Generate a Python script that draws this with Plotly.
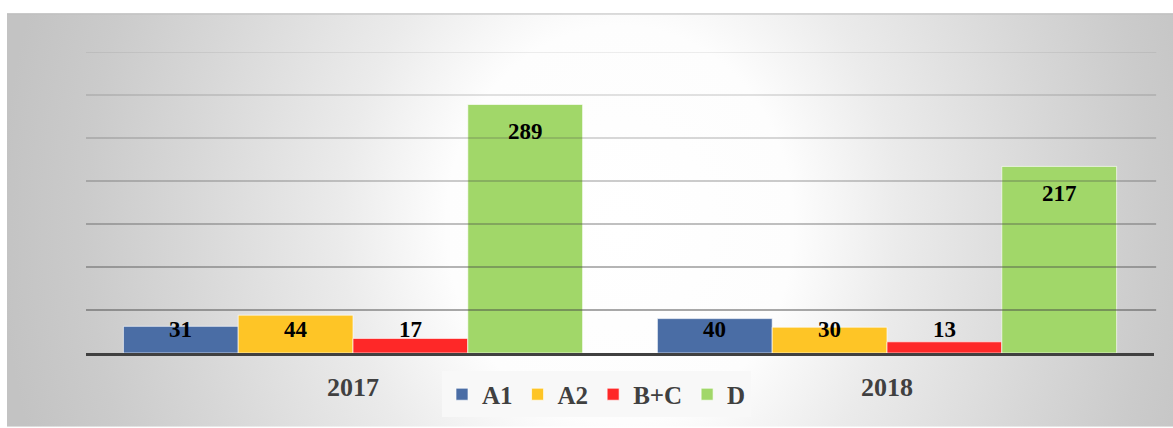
import base64
import plotly.graph_objects as go

# ---- data ----
categories = ["2017", "2018"]
series_names = ["A1", "A2", "B+C", "D"]
a1_values = [31, 40]
a2_values = [44, 30]
bc_values = [17, 13]
d_values = [289, 217]
grid_values = [50, 100, 150, 200, 250, 300, 350]

series_values = [a1_values, a2_values, bc_values, d_values]
colors = ["#4a6da5", "#fec526", "#fe2828", "#a1d769"]

W, H = 1173, 428
ML, MR, MT, MB = 86, 19, 52, 74
PW, PH = W - ML - MR, H - MT - MB
YMAX = 350
BARGAP = 0.14

# ---- background gradient frame (SVG data URI) ----
fx0, fy0, fx1, fy1 = 7, 13, 1173, 428
fw, fh = fx1 - fx0, fy1 - fy0
cx, cy = 613, 212
svg = f'''<svg xmlns="http://www.w3.org/2000/svg" width="{fw}" height="{fh}" viewBox="0 0 {fw} {fh}" preserveAspectRatio="none">
<defs><radialGradient id="g" gradientUnits="userSpaceOnUse" cx="{cx}" cy="{cy}" r="620"
 gradientTransform="translate({cx} {cy}) scale(1 1.15) translate(-{cx} -{cy})">
<stop offset="0" stop-color="#ffffff"/>
<stop offset="0.28" stop-color="#fdfdfd"/>
<stop offset="0.45" stop-color="#ebebeb"/>
<stop offset="0.7" stop-color="#d7d7d7"/>
<stop offset="0.86" stop-color="#cbcbcb"/>
<stop offset="1" stop-color="#c3c3c3"/>
</radialGradient></defs>
<rect x="0" y="0" width="{fw}" height="{fh}" fill="url(#g)"/>
<line x1="0" y1="0.75" x2="{fw}" y2="0.75" stroke="#bdbdbd" stroke-width="1.5"/>
</svg>'''
src = "data:image/svg+xml;base64," + base64.b64encode(svg.encode()).decode()

fig = go.Figure()
for name, vals, col in zip(series_names, series_values, colors):
    fig.add_trace(go.Bar(
        name=name, x=categories, y=vals,
        marker=dict(color=col, line=dict(color="rgba(255,255,255,0.65)", width=1)),
        hoverinfo="x+y+name",
    ))

# data labels (x given as category index on the category axis)
cat_px = PW / len(categories)
bar_px = cat_px * (1 - BARGAP) / len(series_names)
px_per_unit = PH / YMAX
annotations = []
for k, vals in enumerate(series_values):
    xs = (k - (len(series_names) - 1) / 2) * bar_px
    for ci, v in enumerate(vals):
        if v * px_per_unit - 27 >= 24:
            yv, ys = v, -27
        else:
            yv, ys = 0, 24
        annotations.append(dict(
            x=ci, y=yv, xref="x", yref="y", xshift=xs, yshift=ys,
            text=str(v), showarrow=False, yanchor="middle", xanchor="center",
            font=dict(family="Liberation Serif", size=23, color="#000000", weight="bold"),
        ))

# gridlines drawn above bars, fading toward the top
shapes = []
n = len(grid_values)
for i, g in enumerate(grid_values):
    alpha = 0.62 - 0.5 * i / (n - 1)
    shapes.append(dict(type="line", xref="paper", yref="y", x0=0, x1=1.002, y0=g, y1=g,
                       line=dict(color=f"rgba(70,70,70,{alpha:.3f})", width=1.5),
                       layer="above"))

fig.update_layout(
    width=W, height=H,
    margin=dict(l=ML, r=MR, t=MT, b=MB, pad=0),
    paper_bgcolor="#ffffff",
    plot_bgcolor="rgba(0,0,0,0)",
    barmode="group", bargap=BARGAP, bargroupgap=0,
    images=[dict(source=src, xref="paper", yref="paper",
                 x=(fx0 - ML) / PW, y=(H - MB - fy0) / PH,
                 sizex=fw / PW, sizey=fh / PH, sizing="stretch",
                 xanchor="left", yanchor="top", layer="below")],
    shapes=shapes,
    annotations=annotations,
    showlegend=True,
    legend=dict(orientation="h", x=0.478, xanchor="center", y=-0.134, yanchor="middle",
                bgcolor="#f8f8f8", borderwidth=0, itemwidth=30,
                font=dict(family="Liberation Serif", size=25, color="#404040", weight="bold")),
    xaxis=dict(type="category", categoryorder="array", categoryarray=categories,
               range=[-0.5, len(categories) - 0.5], autorange=False,
               showline=True, linecolor="#404040", linewidth=3, ticks="",
               showgrid=False, zeroline=False, ticklabelstandoff=9,
               tickfont=dict(family="Liberation Serif", size=26, color="#404040", weight="bold")),
    yaxis=dict(range=[0, YMAX], autorange=False, showgrid=False, zeroline=False,
               showticklabels=False, ticks="", showline=False),
)

fig.write_html("out.html", config={"displayModeBar": False},
               post_script="document.body.style.margin='0';")
